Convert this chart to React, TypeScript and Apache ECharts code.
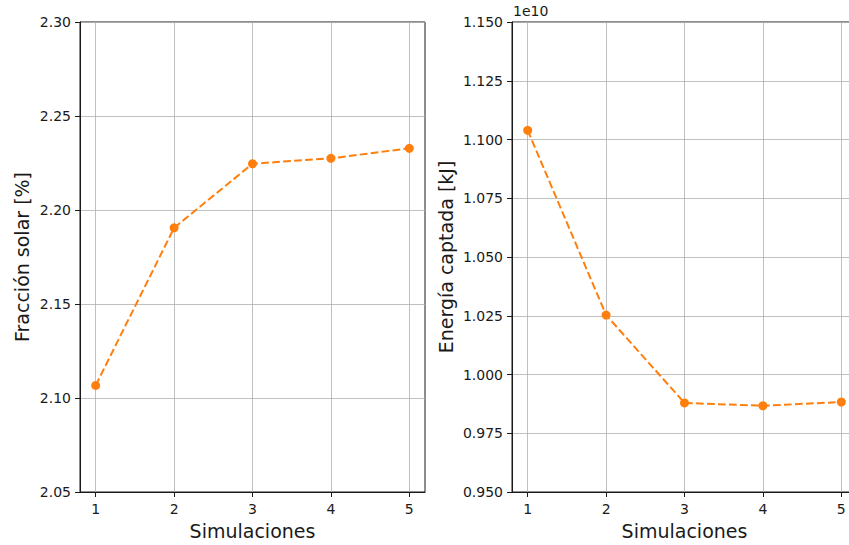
import React, { useEffect, useRef } from "react";
import * as echarts from "echarts";

const simulaciones = [1, 2, 3, 4, 5];
const fraccionSolar = [2.1067, 2.1905, 2.2246, 2.2275, 2.2328];
const energiaCaptada = [1.1039e10, 1.0253e10, 0.9879e10, 0.9867e10, 0.9883e10];
const xTicks = [1, 2, 3, 4, 5];

const FONT = "DejaVu Sans";
const ORANGE = "#ff7f0e";
const INK = "#1a1a1a";

export default function App() {
  const ref = useRef<HTMLDivElement>(null);
  useEffect(() => {
    if (!ref.current) return;
    document.body.style.overflow = "hidden";
    const chart = echarts.init(ref.current, null, { renderer: "svg" });
    const xAxisBase = (gridIndex: number) => ({
      type: "value",
      gridIndex,
      min: 0.8,
      max: 5.2,
      name: "Simulaciones",
      nameLocation: "middle",
      nameGap: 29,
      nameTextStyle: { fontFamily: FONT, fontSize: 19, color: INK },
      axisLine: { show: true, onZero: false, lineStyle: { color: INK, width: 1 } },
      axisTick: { show: true, inside: false, length: 5, customValues: xTicks, lineStyle: { color: INK, width: 1 } },
      axisLabel: { customValues: xTicks, margin: 10, fontFamily: FONT, fontSize: 14, color: INK, formatter: (v: number) => String(v) },
      splitLine: { show: true, lineStyle: { color: "#b0b0b0", width: 0.8 } },
    });
    const yAxisBase = (gridIndex: number) => ({
      type: "value",
      gridIndex,
      nameLocation: "middle",
      nameTextStyle: { fontFamily: FONT, fontSize: 19, color: INK },
      axisLine: { show: true, onZero: false, lineStyle: { color: INK, width: 1 } },
      axisTick: { show: true, inside: false, length: 5, lineStyle: { color: INK, width: 1 } },
      splitLine: { show: true, lineStyle: { color: "#b0b0b0", width: 0.8 } },
    });
    const seriesBase = {
      type: "line",
      symbol: "circle",
      symbolSize: 9,
      itemStyle: { color: ORANGE },
      lineStyle: { color: ORANGE, width: 2, type: [7.7, 3.3] },
      clip: false,
    };
    chart.setOption({
      animation: false,
      backgroundColor: "#fff",
      grid: [
        { left: 80, top: 22, width: 345, height: 472, show: true, borderColor: INK, borderWidth: 1, backgroundColor: "transparent" },
        { left: 512, top: 22, width: 345, height: 472, show: true, borderColor: INK, borderWidth: 1, backgroundColor: "transparent" },
      ],
      xAxis: [xAxisBase(0), xAxisBase(1)],
      yAxis: [
        {
          ...yAxisBase(0),
          min: 2.05,
          max: 2.3,
          interval: 0.05,
          name: "Fracción solar [%]",
          nameGap: 49,
          axisLabel: { margin: 9, fontFamily: FONT, fontSize: 14, color: INK, formatter: (v: number) => v.toFixed(2) },
        },
        {
          ...yAxisBase(1),
          min: 0.95e10,
          max: 1.15e10,
          interval: 0.025e10,
          name: "Energía captada [kJ]",
          nameGap: 57,
          axisLabel: { margin: 9, fontFamily: FONT, fontSize: 14, color: INK, formatter: (v: number) => (v / 1e10).toFixed(3) },
        },
      ],
      graphic: [
        {
          type: "text",
          left: 513,
          top: 4,
          style: { text: "1e10", fontFamily: FONT, fontSize: 14, fill: INK },
        },
      ],
      series: [
        { ...seriesBase, xAxisIndex: 0, yAxisIndex: 0, data: simulaciones.map((s, i) => [s, fraccionSolar[i]]) },
        { ...seriesBase, xAxisIndex: 1, yAxisIndex: 1, data: simulaciones.map((s, i) => [s, energiaCaptada[i]]) },
      ],
    });
    return () => chart.dispose();
  }, []);
  return (
    <div
      ref={ref}
      style={{ position: "fixed", left: 0, top: 0, width: 862, height: 545, background: "#fff" }}
    />
  );
}
